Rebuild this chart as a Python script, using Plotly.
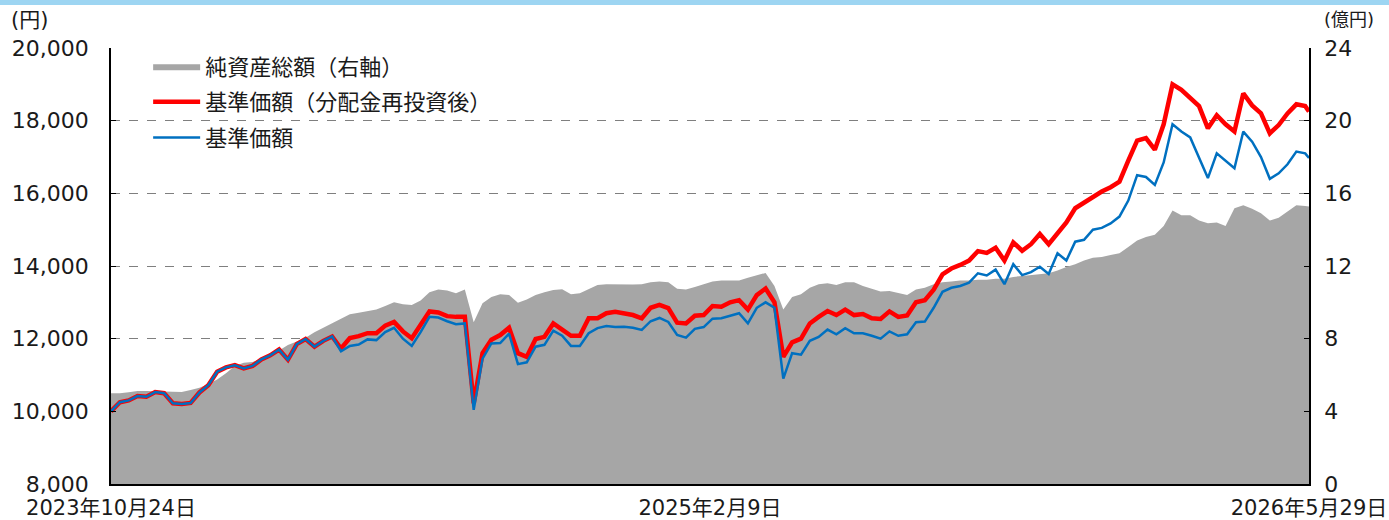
import pandas as pd
import plotly.graph_objects as go

# weekly observation dates + final date
dates = [d.strftime("%Y-%m-%d") for d in pd.date_range("2023-10-24", periods=136, freq="7D")] + ["2026-05-29"]

nav_reinvested = [
    10000, 10250, 10300, 10420, 10400, 10530, 10500, 10220, 10200, 10230,
    10520, 10720, 11090, 11210, 11270, 11180, 11250, 11430, 11540, 11700,
    11420, 11850, 11990, 11780, 11940, 12060, 11730, 12020, 12070, 12150,
    12150, 12360, 12460, 12200, 12010, 12380, 12750, 12720, 12620, 12600,
    12600, 10220, 11600, 11970, 12100, 12300, 11600, 11500, 11990, 12050,
    12420, 12250, 12080, 12080, 12560, 12560, 12700, 12740, 12700, 12650,
    12560, 12850, 12930, 12840, 12440, 12420, 12630, 12650, 12900, 12880,
    13000, 13060, 12800, 13200, 13380, 13000, 11500, 11900, 12000, 12420,
    12600, 12760, 12650, 12800, 12650, 12680, 12560, 12540, 12750, 12600,
    12640, 13000, 13060, 13350, 13770, 13930, 14030, 14150, 14410, 14360,
    14500, 14150, 14650, 14420, 14600, 14880, 14600, 14900, 15200, 15590,
    15750, 15900, 16050, 16170, 16320, 16900, 17450, 17520, 17200, 17900,
    19000, 18850, 18620, 18400, 17790, 18150, 17900, 17700, 18750, 18420,
    18200, 17650, 17880, 18200, 18450, 18400, 18250,
]

nav = [
    10000, 10250, 10300, 10420, 10400, 10530, 10500, 10220, 10200, 10230,
    10520, 10720, 11090, 11210, 11270, 11180, 11250, 11430, 11540, 11700,
    11420, 11850, 11990, 11780, 11940, 12060, 11650, 11800, 11840, 11980,
    11960, 12180, 12300, 12000, 11800, 12180, 12600, 12580, 12480, 12400,
    12420, 10040, 11450, 11870, 11880, 12140, 11300, 11350, 11780, 11830,
    12220, 12080, 11800, 11800, 12150, 12290, 12350, 12320, 12330, 12300,
    12240, 12480, 12570, 12460, 12100, 12030, 12270, 12320, 12550, 12560,
    12630, 12700, 12420, 12850, 13000, 12850, 10900, 11600, 11560, 11940,
    12050, 12250, 12120, 12290, 12150, 12150, 12080, 12000, 12200, 12080,
    12120, 12450, 12470, 12850, 13290, 13400, 13450, 13540, 13800, 13740,
    13900, 13500, 14050, 13750, 13830, 13980, 13780, 14350, 14150, 14670,
    14720, 15000, 15050, 15170, 15360, 15800, 16500, 16450, 16230, 16850,
    17900, 17700, 17540, 17000, 16420, 17100, 16900, 16690, 17700, 17420,
    17000, 16400, 16550, 16800, 17150, 17100, 16970,
]

net_assets = [
    5.0, 5.0, 5.05, 5.12, 5.12, 5.1, 5.08, 5.04, 5.06, 5.18,
    5.3, 5.5, 5.75, 6.1, 6.5, 6.68, 6.72, 6.9, 7.15, 7.35,
    7.65, 7.85, 8.05, 8.35, 8.6, 8.85, 9.1, 9.35, 9.42, 9.5,
    9.6, 9.8, 10.0, 9.9, 9.85, 10.1, 10.55, 10.7, 10.65, 10.5,
    10.7, 8.9, 9.95, 10.3, 10.45, 10.4, 9.98, 10.15, 10.4, 10.55,
    10.68, 10.72, 10.45, 10.5, 10.75, 10.96, 11.0, 10.98, 10.96, 10.98,
    11.0, 11.1, 11.15, 11.1, 10.75, 10.7, 10.85, 11.0, 11.15, 11.2,
    11.2, 11.2, 11.35, 11.5, 11.62, 10.9, 9.6, 10.3, 10.45, 10.8,
    11.0, 11.05, 10.96, 11.1, 11.1, 10.9, 10.75, 10.6, 10.62, 10.5,
    10.4, 10.7, 10.8, 11.0, 11.1, 11.15, 11.2, 11.2, 11.25, 11.25,
    11.3, 11.3, 11.4, 11.45, 11.5, 11.55, 11.6, 11.75, 11.95, 12.1,
    12.3, 12.45, 12.5, 12.6, 12.7, 13.05, 13.4, 13.6, 13.72, 14.2,
    15.05, 14.8, 14.8, 14.5, 14.35, 14.4, 14.2, 15.18, 15.35, 15.15,
    14.9, 14.5, 14.65, 15.0, 15.35, 15.3, 15.27,
]

x_tickvals = ["2023-10-24", "2025-02-09", "2026-05-29"]
x_ticktext = ["2023年10月24日", "2025年2月9日", "2026年5月29日"]
left_ticks = [8000, 10000, 12000, 14000, 16000, 18000, 20000]
left_ticktext = ["8,000", "10,000", "12,000", "14,000", "16,000", "18,000", "20,000"]
right_ticks = [0, 4, 8, 12, 16, 20, 24]

FONT = "DejaVu Sans, Noto Sans CJK JP"
CJK = "Noto Sans CJK JP"

fig = go.Figure()
fig.add_trace(go.Scatter(
    x=dates, y=net_assets, name="純資産総額（右軸）", yaxis="y",
    mode="lines", line=dict(width=0, color="#A6A6A6"),
    fill="tozeroy", fillcolor="#A6A6A6", legendgroup="a",
))
fig.add_trace(go.Scatter(
    x=dates, y=nav_reinvested, name="基準価額（分配金再投資後）", yaxis="y2",
    mode="lines", line=dict(width=4.5, color="#FF0000"), legendgroup="b",
))
fig.add_trace(go.Scatter(
    x=dates, y=nav, name="基準価額", yaxis="y2",
    mode="lines", line=dict(width=2.5, color="#0070C0"), legendgroup="c",
))

fig.update_layout(
    width=1389, height=520,
    margin=dict(l=111, r=80, t=48, b=36, autoexpand=False),
    paper_bgcolor="white", plot_bgcolor="white",
    font=dict(family=FONT, size=20, color="#1a1a1a"),
    showlegend=True,
    legend=dict(
        x=0.031, y=1.006, xanchor="left", yanchor="top",
        bgcolor="rgba(0,0,0,0)", font=dict(size=22, family=CJK),
        itemwidth=47, traceorder="grouped", tracegroupgap=4,
    ),
    xaxis=dict(
        type="date", range=["2023-10-24", "2026-05-29"],
        tickvals=x_tickvals, ticktext=x_ticktext, automargin=False,
        showgrid=False, showline=True, linecolor="#000", linewidth=1.5,
        ticks="", tickfont=dict(size=21, family=FONT), ticklabelstandoff=4,
        zeroline=False,
    ),
    yaxis=dict(
        side="right", range=[0, 24], tickvals=right_ticks, automargin=False,
        showline=True, linecolor="#000", linewidth=1.5,
        ticks="inside", ticklen=5, tickcolor="#000",
        showgrid=True, gridcolor="#7f7f7f", griddash="dash", gridwidth=1,
        tickfont=dict(size=22, family=FONT), ticklabelstandoff=9,
        zeroline=False,
    ),
    yaxis2=dict(
        overlaying="y", side="left", range=[8000, 20000], automargin=False,
        tickvals=left_ticks, ticktext=left_ticktext,
        showline=True, linecolor="#000", linewidth=1.5,
        ticks="inside", ticklen=5, tickcolor="#000",
        showgrid=False, zeroline=False,
        tickfont=dict(size=22, family=FONT), ticklabelstandoff=16,
    ),
    shapes=[dict(
        type="rect", xref="paper", yref="paper",
        x0=-0.1, x1=1.07, y0=1 + 43 / 436, y1=1.12,
        fillcolor="#9DD5F2", line=dict(width=0), layer="above",
    )],
    annotations=[
        dict(text="(円)", xref="paper", yref="paper", x=(29 - 111) / 1198, y=1 + 28 / 436,
             xanchor="center", yanchor="middle",
             showarrow=False, font=dict(size=21, family=FONT)),
        dict(text="(億円)", xref="paper", yref="paper", x=(1349 - 111) / 1198, y=1 + 28 / 436,
             xanchor="center", yanchor="middle",
             showarrow=False, font=dict(size=18, family=FONT)),
    ],
)

fig.write_html(
    "out.html",
    config={"displayModeBar": False},
    post_script="document.body.style.margin='0';document.body.style.overflow='hidden';",
)
